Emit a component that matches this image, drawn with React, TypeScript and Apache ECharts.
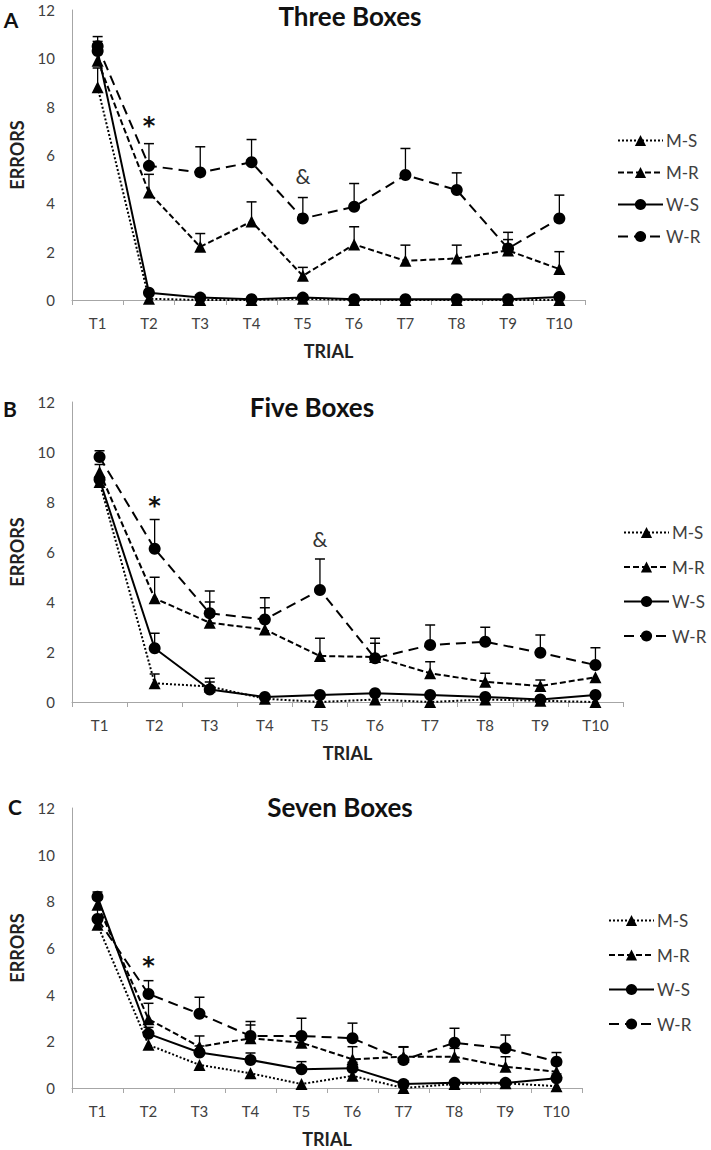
import React, { useEffect, useRef } from 'react';
import * as echarts from 'echarts';

// ---------- data ----------
const trials = ['T1', 'T2', 'T3', 'T4', 'T5', 'T6', 'T7', 'T8', 'T9', 'T10'];
const groupNames = ['M-S', 'M-R', 'W-S', 'W-R'];
const panelTitles = ['Three Boxes', 'Five Boxes', 'Seven Boxes'];
const panelLetters = ['A', 'B', 'C'];
const yAxisName = 'ERRORS';
const xAxisName = 'TRIAL';

// Three Boxes
const threeMS = [8.8, 0.05, 0.0, 0.0, 0.05, 0.0, 0.0, 0.0, 0.0, 0.0];
const threeMR = [9.9, 4.45, 2.2, 3.25, 1.0, 2.3, 1.62, 1.72, 2.05, 1.28];
const threeWS = [10.3, 0.3, 0.1, 0.03, 0.1, 0.03, 0.03, 0.03, 0.03, 0.12];
const threeWR = [10.5, 5.55, 5.28, 5.7, 3.37, 3.86, 5.17, 4.55, 2.13, 3.37];
const threeMSTop = [9.6, null, null, null, null, null, null, null, null, null];
const threeMRTop = [10.6, 5.2, 2.75, 4.06, 1.35, 3.03, 2.27, 2.27, 2.5, 2.0];
const threeWSTop = [10.7, 0.4, null, null, null, null, null, null, null, null];
const threeWRTop = [10.9, 6.47, 6.34, 6.64, 4.24, 4.82, 6.27, 5.26, 2.8, 4.34];
const threeMarks = [{ t: 'T2', v: 7.2, s: '*' }, { t: 'T5', v: 5.15, s: '&' }];

// Five Boxes
const fiveMS = [8.8, 0.75, 0.62, 0.13, 0.0, 0.1, 0.0, 0.1, 0.05, 0.0];
const fiveMR = [9.2, 4.15, 3.17, 2.9, 1.84, 1.8, 1.15, 0.81, 0.64, 0.99];
const fiveWS = [8.9, 2.15, 0.5, 0.2, 0.28, 0.35, 0.28, 0.2, 0.1, 0.28];
const fiveWR = [9.8, 6.13, 3.55, 3.3, 4.48, 1.75, 2.28, 2.41, 1.97, 1.48];
const fiveMSTop = [null, 1.12, 0.8, null, null, null, null, null, null, null];
const fiveMRTop = [9.5, 4.99, 4.0, 3.77, 2.55, 2.35, 1.61, 1.15, 0.88, null];
const fiveWSTop = [null, 2.75, 0.95, null, null, null, null, null, null, null];
const fiveWRTop = [10.05, 7.3, 4.44, 4.17, 5.72, 2.55, 3.08, 2.99, 2.68, 2.17];
const fiveMarks = [{ t: 'T2', v: 7.85, s: '*' }, { t: 'T5', v: 6.55, s: '&' }];

// Seven Boxes
const sevenMS = [7.0, 1.85, 0.99, 0.63, 0.17, 0.52, 0.0, 0.17, 0.2, 0.08];
const sevenMR = [7.85, 2.95, 1.77, 2.13, 1.94, 1.23, 1.34, 1.34, 0.91, 0.7];
const sevenWS = [8.2, 2.32, 1.52, 1.2, 0.8, 0.85, 0.17, 0.22, 0.22, 0.42];
const sevenWR = [7.24, 4.03, 3.18, 2.23, 2.23, 2.13, 1.2, 1.94, 1.7, 1.13];
const sevenMSTop = [null, null, null, null, null, null, null, null, null, null];
const sevenMRTop = [8.1, 3.63, 2.23, 2.7, 2.3, 1.77, 1.75, 1.7, 1.34, 1.0];
const sevenWSTop = [null, 2.6, 1.8, 1.5, 1.13, 1.1, 0.3, 0.3, 0.3, 0.6];
const sevenWRTop = [8.4, 4.6, 3.89, 2.85, 2.99, 2.78, 1.77, 2.56, 2.27, 1.52];
const sevenMarks = [{ t: 'T2', v: 5.25, s: '*' }];

const yMin = 0;
const yMax = 12;
const yInterval = 2;

// ---------- layout / style ----------
const panels = [
  { values: [threeMS, threeMR, threeWS, threeWR], tops: [threeMSTop, threeMRTop, threeWSTop, threeWRTop], marks: threeMarks,
    grid: { left: 67, top: 10, width: 518, height: 290 }, legend: { left: 612, top: 127, gap: 15 },
    title: { x: 350, y: 16 }, letter: { x: 11, y: 19 } },
  { values: [fiveMS, fiveMR, fiveWS, fiveWR], tops: [fiveMSTop, fiveMRTop, fiveWSTop, fiveWRTop], marks: fiveMarks,
    grid: { left: 62, top: 402, width: 561, height: 300 }, legend: { left: 618, top: 519, gap: 17.5 },
    title: { x: 312, y: 407 }, letter: { x: 10, y: 408 } },
  { values: [sevenMS, sevenMR, sevenWS, sevenWR], tops: [sevenMSTop, sevenMRTop, sevenWSTop, sevenWRTop], marks: sevenMarks,
    grid: { left: 63, top: 808, width: 519, height: 280 }, legend: { left: 603, top: 907, gap: 17.5 },
    title: { x: 340, y: 807 }, letter: { x: 15, y: 806 } },
];

const seriesStyles = [
  { symbol: 'triangle', dash: [2, 2] },
  { symbol: 'triangle', dash: [6, 3] },
  { symbol: 'circle', dash: 'solid' },
  { symbol: 'circle', dash: [10, 6] },
];

const FONT = 'Lato, "Open Sans", sans-serif';
const TEXT = '#404040';
const AXIS = '#a6a6a6';

export default function App() {
  const ref = useRef<HTMLDivElement>(null);
  useEffect(() => {
    if (!ref.current) return;
    const chart = echarts.init(ref.current, null, { renderer: 'svg' });

    const grids: any[] = [];
    const xAxes: any[] = [];
    const yAxes: any[] = [];
    const legends: any[] = [];
    const series: any[] = [];
    const graphics: any[] = [];

    panels.forEach((p, pi) => {
      grids.push({ ...p.grid, containLabel: false });
      xAxes.push({
        type: 'category', gridIndex: pi, data: trials, boundaryGap: true,
        name: xAxisName, nameLocation: 'middle', nameGap: 42,
        nameTextStyle: { fontFamily: FONT, fontSize: 18, fontWeight: 'bold', color: '#222' },
        axisLine: { lineStyle: { color: AXIS, width: 1 } },
        axisTick: { show: true, length: 5, lineStyle: { color: AXIS } },
        axisLabel: { fontFamily: FONT, fontSize: 15, color: TEXT, margin: 15 },
      });
      yAxes.push({
        type: 'value', gridIndex: pi, min: yMin, max: yMax, interval: yInterval,
        name: yAxisName, nameLocation: 'middle', nameGap: 46, nameRotate: 90,
        nameTextStyle: { fontFamily: FONT, fontSize: 18, fontWeight: 'bold', color: '#222' },
        axisLine: { show: true, lineStyle: { color: AXIS, width: 1 } },
        axisTick: { show: false },
        splitLine: { show: false },
        axisLabel: { fontFamily: FONT, fontSize: 15, color: TEXT, margin: 17 },
      });
      legends.push({
        orient: 'vertical', left: p.legend.left, top: p.legend.top,
        itemWidth: 45, itemHeight: 14, itemGap: p.legend.gap,
        data: groupNames,
        textStyle: { fontFamily: FONT, fontSize: 17, color: TEXT, padding: [0, 0, 0, -2] },
        selectedMode: false,
      });

      // error bars
      const errData: any[] = [];
      p.values.forEach((vals, si) => {
        const tops = p.tops[si];
        vals.forEach((v, i) => {
          const t = tops[i];
          if (t !== null && t !== undefined) errData.push([i, v, t]);
        });
      });
      series.push({
        type: 'custom', name: 'err' + pi, xAxisIndex: pi, yAxisIndex: pi, z: 1,
        data: errData, encode: { x: 0, y: [1, 2] },
        renderItem: (params: any, api: any) => {
          const x = api.value(0);
          const p0 = api.coord([x, api.value(1)]);
          const p1 = api.coord([x, api.value(2)]);
          const hw = 5;
          return {
            type: 'group',
            children: [
              { type: 'line', shape: { x1: p0[0], y1: p0[1], x2: p1[0], y2: p1[1] }, style: { stroke: '#000', lineWidth: 1.3 } },
              { type: 'line', shape: { x1: p1[0] - hw, y1: p1[1], x2: p1[0] + hw, y2: p1[1] }, style: { stroke: '#000', lineWidth: 1.5 } },
            ],
          };
        },
      });

      p.values.forEach((vals, si) => {
        const st = seriesStyles[si];
        const s: any = {
          type: 'line', name: groupNames[si], xAxisIndex: pi, yAxisIndex: pi, z: 3,
          data: vals, symbol: st.symbol, symbolSize: 12, showSymbol: true,
          lineStyle: { color: '#000', width: 2, type: st.dash },
          itemStyle: { color: '#000' },
          emphasis: { disabled: true },
        };
        if (si === 3) {
          s.markPoint = {
            symbol: 'circle', symbolSize: 0,
            label: { show: true, position: 'inside', formatter: '{b}', fontFamily: '"DejaVu Sans", sans-serif', color: '#111', fontSize: 24 },
            data: p.marks.map((m) => ({
              name: m.s, coord: [m.t, m.v],
              label: m.s === '*'
                ? { fontWeight: 'bold', fontSize: 24, fontFamily: '"DejaVu Sans", sans-serif' }
                : { fontWeight: 'normal', fontSize: 21, fontFamily: FONT, color: '#333' },
            })),
          };
        }
        series.push(s);
      });

      graphics.push({
        type: 'text', x: p.title.x, y: p.title.y, z: 10,
        style: { text: panelTitles[pi], font: `bold 26px ${FONT}`, fill: '#111', textAlign: 'center', textVerticalAlign: 'middle', align: 'center', verticalAlign: 'middle' },
      });
      graphics.push({
        type: 'text', x: p.letter.x, y: p.letter.y, z: 10,
        style: { text: panelLetters[pi], font: `bold 21px ${FONT}`, fill: '#111', textAlign: 'center', textVerticalAlign: 'middle', align: 'center', verticalAlign: 'middle' },
      });
    });

    chart.setOption({
      animation: false,
      backgroundColor: '#fff',
      textStyle: { fontFamily: FONT },
      grid: grids,
      xAxis: xAxes,
      yAxis: yAxes,
      legend: legends,
      series,
      graphic: graphics,
    });
    return () => chart.dispose();
  }, []);
  return <div ref={ref} style={{ position: 'absolute', left: 0, top: 0, width: 711, height: 1150 }} />;
}
